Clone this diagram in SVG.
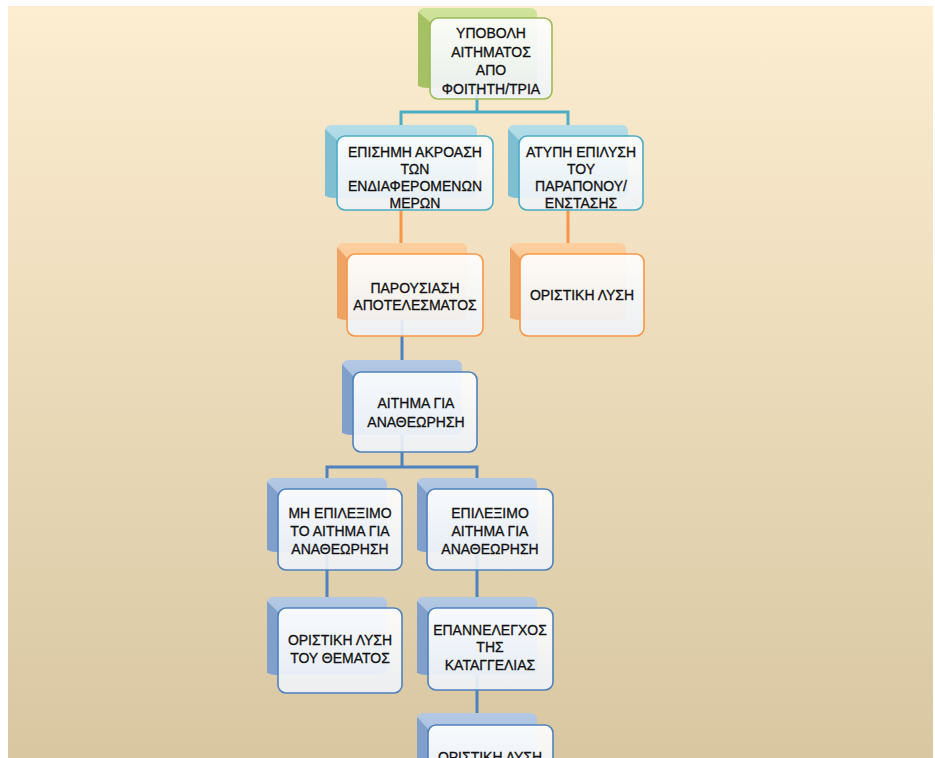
<svg xmlns="http://www.w3.org/2000/svg" width="935" height="758" viewBox="0 0 935 758">
<defs>
<linearGradient id="bg" x1="0" y1="0" x2="0" y2="1"><stop offset="0" stop-color="#fdedd1"/><stop offset="1" stop-color="#d8c7a1"/></linearGradient>
<linearGradient id="gGreen" x1="0" y1="0" x2="0" y2="1"><stop offset="0" stop-color="#d0e39c"/><stop offset="1" stop-color="#b9d27c"/></linearGradient>
<linearGradient id="gTeal" x1="0" y1="0" x2="0" y2="1"><stop offset="0" stop-color="#b4dde8"/><stop offset="1" stop-color="#93cbdb"/></linearGradient>
<linearGradient id="gOrange" x1="0" y1="0" x2="0" y2="1"><stop offset="0" stop-color="#fccf9f"/><stop offset="1" stop-color="#f8b676"/></linearGradient>
<linearGradient id="gBlue" x1="0" y1="0" x2="0" y2="1"><stop offset="0" stop-color="#b3c8e3"/><stop offset="1" stop-color="#93b0d7"/></linearGradient>
<linearGradient id="gFront" x1="0" y1="0" x2="0" y2="1"><stop offset="0" stop-color="#ffffff"/><stop offset="1" stop-color="#eef2f8"/></linearGradient>
</defs>
<style>
.front{fill:url(#gFront);fill-opacity:0.9;stroke-width:1.6}
.green .front{stroke:#9bbb59}.green .back{fill:url(#gGreen)}.green .side{fill:#a6c163}
.teal .front{stroke:#4bacc6}.teal .back{fill:url(#gTeal)}.teal .side{fill:#80bfd1}
.orange .front{stroke:#f79646}.orange .back{fill:url(#gOrange)}.orange .side{fill:#eea364}
.blue .front{stroke:#4f81bd}.blue .back{fill:url(#gBlue)}.blue .side{fill:#809fcb}
text{font-family:"Liberation Sans",Arial,sans-serif;font-size:14px;text-anchor:middle;fill:#111;stroke:#111;stroke-width:0.3}
.conn path{fill:none;stroke-width:3}
</style>
<rect x="8" y="6" width="925" height="752" fill="url(#bg)"/>
<g id="connectors" class="conn">
<path d="M477 88V112M401 125V112H568V125" stroke="#4bacc6"/>
<path d="M401 198V243M568 198V243" stroke="#f79646"/>
<path d="M402 320V360M402 435V467M327 478V467H477V478M327 552V597M477 552V597M477 675V713" stroke="#4f81bd"/>
</g>
<g id="n1" class="green">
<rect class="back" x="418" y="8" width="119" height="80" rx="6"/>
<polygon class="side" points="418,12 430,22 430,88 418,86"/>
<rect class="front" x="430" y="18" width="122" height="81" rx="8"/>
<text x="491" y="38">ΥΠΟΒΟΛΗ</text><text x="491" y="56.5">ΑΙΤΗΜΑΤΟΣ</text><text x="491" y="75">ΑΠΟ</text><text x="491" y="93.5">ΦΟΙΤΗΤΗ/ΤΡΙΑ</text>
</g>
<g id="n2" class="teal">
<rect class="back" x="325" y="125" width="152" height="73" rx="6"/>
<polygon class="side" points="325,129 337,140 337,198 325,196"/>
<rect class="front" x="337" y="136" width="156" height="74" rx="8"/>
<text x="415" y="157" textLength="134" lengthAdjust="spacingAndGlyphs">ΕΠΙΣΗΜΗ ΑΚΡΟΑΣΗ</text><text x="415" y="174">ΤΩΝ</text><text x="415" y="191" textLength="134" lengthAdjust="spacingAndGlyphs">ΕΝΔΙΑΦΕΡΟΜΕΝΩΝ</text><text x="415" y="208">ΜΕΡΩΝ</text>
</g>
<g id="n3" class="teal">
<rect class="back" x="508" y="125" width="120" height="73" rx="6"/>
<polygon class="side" points="508,129 519,140 519,198 508,196"/>
<rect class="front" x="519" y="136" width="124" height="74" rx="8"/>
<text x="581" y="157">ΑΤΥΠΗ ΕΠΙΛΥΣΗ</text><text x="581" y="174">ΤΟΥ</text><text x="581" y="191">ΠΑΡΑΠΟΝΟΥ/</text><text x="581" y="208">ΕΝΣΤΑΣΗΣ</text>
</g>
<g id="n4" class="orange">
<rect class="back" x="337" y="243" width="130" height="77" rx="6"/>
<polygon class="side" points="337,247 347,258 347,320 337,318"/>
<rect class="front" x="347" y="254" width="136" height="82" rx="8"/>
<text x="415" y="293">ΠΑΡΟΥΣΙΑΣΗ</text><text x="415" y="310">ΑΠΟΤΕΛΕΣΜΑΤΟΣ</text>
</g>
<g id="n5" class="orange">
<rect class="back" x="510" y="243" width="116" height="77" rx="6"/>
<polygon class="side" points="510,247 520,258 520,320 510,318"/>
<rect class="front" x="520" y="254" width="124" height="82" rx="8"/>
<text x="582" y="300">ΟΡΙΣΤΙΚΗ ΛΥΣΗ</text>
</g>
<g id="n6" class="blue">
<rect class="back" x="342" y="360" width="120" height="75" rx="6"/>
<polygon class="side" points="342,364 353,376 353,435 342,433"/>
<rect class="front" x="353" y="372" width="124" height="80" rx="8"/>
<text x="416" y="408">ΑΙΤΗΜΑ ΓΙΑ</text><text x="416" y="427">ΑΝΑΘΕΩΡΗΣΗ</text>
</g>
<g id="n7" class="blue">
<rect class="back" x="267" y="478" width="120" height="74" rx="6"/>
<polygon class="side" points="267,482 278,493 278,552 267,550"/>
<rect class="front" x="278" y="489" width="124" height="81" rx="8"/>
<text x="340" y="518">ΜΗ ΕΠΙΛΕΞΙΜΟ</text><text x="340" y="536">ΤΟ ΑΙΤΗΜΑ ΓΙΑ</text><text x="340" y="554">ΑΝΑΘΕΩΡΗΣΗ</text>
</g>
<g id="n8" class="blue">
<rect class="back" x="417" y="478" width="120" height="74" rx="6"/>
<polygon class="side" points="417,482 427,493 427,552 417,550"/>
<rect class="front" x="427" y="489" width="126" height="81" rx="8"/>
<text x="490" y="518">ΕΠΙΛΕΞΙΜΟ</text><text x="490" y="536">ΑΙΤΗΜΑ ΓΙΑ</text><text x="490" y="554">ΑΝΑΘΕΩΡΗΣΗ</text>
</g>
<g id="n9" class="blue">
<rect class="back" x="267" y="597" width="120" height="78" rx="6"/>
<polygon class="side" points="267,601 278,612 278,675 267,673"/>
<rect class="front" x="278" y="608" width="124" height="85" rx="8"/>
<text x="340" y="645">ΟΡΙΣΤΙΚΗ ΛΥΣΗ</text><text x="340" y="663">ΤΟΥ ΘΕΜΑΤΟΣ</text>
</g>
<g id="n10" class="blue">
<rect class="back" x="417" y="597" width="120" height="78" rx="6"/>
<polygon class="side" points="417,601 428,612 428,675 417,673"/>
<rect class="front" x="428" y="608" width="125" height="82" rx="8"/>
<text x="490" y="635">ΕΠΑΝΝΕΛΕΓΧΟΣ</text><text x="490" y="652">ΤΗΣ</text><text x="490" y="670">ΚΑΤΑΓΓΕΛΙΑΣ</text>
</g>
<g id="n11" class="blue">
<rect class="back" x="417" y="713" width="120" height="80" rx="6"/>
<polygon class="side" points="417,717 428,729 428,793 417,791"/>
<rect class="front" x="428" y="725" width="125" height="80" rx="8"/>
<text x="490" y="762">ΟΡΙΣΤΙΚΗ ΛΥΣΗ</text>
</g>
</svg>
